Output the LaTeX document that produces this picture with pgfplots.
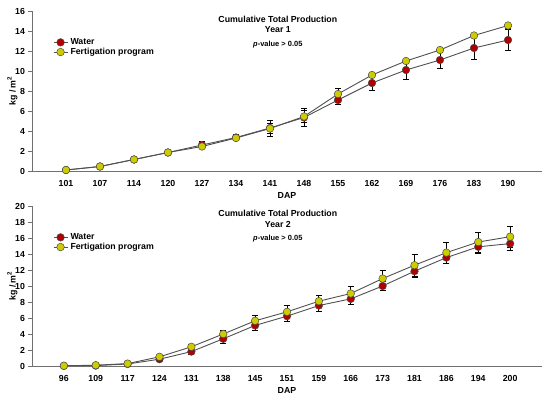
\documentclass[border=0pt]{standalone}
\usepackage{fontspec}
\setmainfont{Liberation Sans}
\usepackage{pgfplots}
\usepackage{pgfplotstable}
\pgfplotsset{compat=1.18}
\definecolor{wred}{HTML}{B00000}
\definecolor{fyel}{HTML}{CCCC00}
\definecolor{axgray}{HTML}{707070}
\definecolor{lngray}{HTML}{505050}

\pgfplotstableread{
x y e
0 0.10 0.05
1 0.45 0.08
2 1.15 0.15
3 1.85 0.15
4 2.60 0.35
5 3.35 0.30
6 4.30 0.80
7 5.35 0.90
8 7.10 0.40
9 8.80 0.70
10 10.10 0.90
11 11.10 0.80
12 12.30 1.10
13 13.10 1.05
}\wa

\pgfplotstableread{
x y e
0 0.10 0.05
1 0.45 0.08
2 1.15 0.15
3 1.85 0.15
4 2.45 0.20
5 3.30 0.20
6 4.25 0.50
7 5.45 0.60
8 7.70 0.55
9 9.60 0.20
10 11.00 0.20
11 12.10 0.25
12 13.55 0.15
13 14.55 0.25
}\fa

\pgfplotstableread{
x y e
0 0.02 0.02
1 0.05 0.03
2 0.25 0.05
3 0.85 0.20
4 1.80 0.40
5 3.40 0.60
6 5.07 0.60
7 6.23 0.70
8 7.56 0.70
9 8.39 0.75
10 10.00 0.60
11 11.85 0.75
12 13.55 0.70
13 14.90 0.85
14 15.30 0.85
}\wb

\pgfplotstableread{
x y e
0 0.03 0.02
1 0.10 0.03
2 0.30 0.05
3 1.15 0.20
4 2.40 0.30
5 4.00 0.40
6 5.65 0.70
7 6.77 0.75
8 8.10 0.75
9 9.06 0.90
10 10.93 1.00
11 12.60 1.40
12 14.17 1.30
13 15.50 1.25
14 16.16 1.30
}\fb

\newcommand{\ff}{\fontsize{8.8}{10.5}\selectfont\bfseries}

\pgfplotsset{
  myaxis/.style={
    scale only axis,
    width=510bp, height=160bp,
    axis x line=bottom, axis y line=left,
    axis line style={axgray, line width=0.8bp, -},
    tick label style={font=\ff},
    label style={font=\ff},
    /pgf/number format/assume math mode=true,
    xtick=data,
    x tick style={draw=none},
    y tick style={axgray, line width=0.8bp},
    tick align=outside,
    major tick length=3.5bp,
    xlabel={DAP},
    ylabel={kg / m$^{\mathbf{2}}$},
    xlabel style={yshift=1bp},
    ylabel style={yshift=-9bp},
    xticklabel style={yshift=-2.5bp},
    legend cell align=left,
    legend style={at={(0.041,0.835)}, anchor=north west, draw=none, fill=none,
      font=\ff, row sep=0pt, inner sep=0pt,
      nodes={inner xsep=2.5bp, inner ysep=1bp}},
    legend image code/.code={
      \draw[mark repeat=2,mark phase=2] plot coordinates {(0bp,0bp) (7bp,0bp) (14bp,0bp)};
    },
    error bars/error bar style={black, line width=0.9bp},
    error bars/error mark options={black, line width=0.9bp, mark size=3bp, rotate=90},
  },
  wline/.style={lngray, line width=0.9bp, mark=*, mark size=3.8bp,
    mark options={fill=wred, draw=black!70, line width=0.5bp},
    error bars/.cd, y dir=both, y explicit},
  fline/.style={lngray, line width=0.9bp, mark=*, mark size=3.8bp,
    mark options={fill=fyel, draw=black!70, line width=0.5bp},
    error bars/.cd, y dir=both, y explicit},
}

\begin{document}
\begin{tikzpicture}
\path[use as bounding box] (0,0) rectangle (550bp,398bp);
\begin{axis}[myaxis, at={(32bp,227bp)}, anchor=south west,
  xmin=-1, xmax=14, ymin=0, ymax=16, ytick={0,2,...,16},
  xticklabels={101,107,114,120,127,134,141,148,155,162,169,176,183,190}]
  \addplot[wline] table[x=x, y=y, y error=e] {\wa};
  \addlegendentry{Water}
  \addplot[fline] table[x=x, y=y, y error=e] {\fa};
  \addlegendentry{Fertigation program}
  \node[font=\ff] at (rel axis cs:0.482,0.948) {Cumulative Total Production};
  \node[font=\ff] at (rel axis cs:0.482,0.886) {Year 1};
  \node[font=\fontsize{7.5}{9}\selectfont\bfseries] at (rel axis cs:0.482,0.792) {\textit{p}-value > 0.05};
\end{axis}
\begin{axis}[myaxis, at={(32bp,32bp)}, anchor=south west,
  xmin=-1, xmax=15, ymin=0, ymax=20, ytick={0,2,...,20},
  xticklabels={96,109,117,124,131,138,145,151,159,166,173,181,186,194,200}]
  \addplot[wline] table[x=x, y=y, y error=e] {\wb};
  \addlegendentry{Water}
  \addplot[fline] table[x=x, y=y, y error=e] {\fb};
  \addlegendentry{Fertigation program}
  \node[font=\ff] at (rel axis cs:0.482,0.952) {Cumulative Total Production};
  \node[font=\ff] at (rel axis cs:0.482,0.8875) {Year 2};
  \node[font=\fontsize{7.5}{9}\selectfont\bfseries] at (rel axis cs:0.482,0.796) {\textit{p}-value > 0.05};
\end{axis}
\end{tikzpicture}
\end{document}
